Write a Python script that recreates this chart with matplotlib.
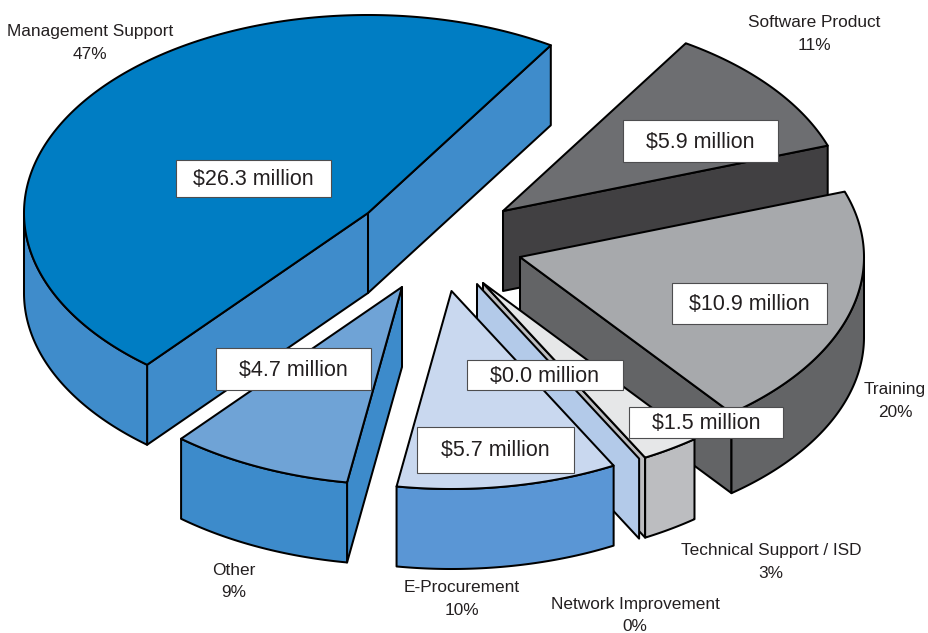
import numpy as np
import matplotlib
matplotlib.use("Agg")
import matplotlib.pyplot as plt
from matplotlib.patches import Polygon, Rectangle

# Spending by category, in the order the pie runs counter-clockwise
categories = ["Management Support", "Other", "E-Procurement", "Network Improvement",
              "Technical Support / ISD", "Training", "Software Product"]
millions = [26.3, 4.7, 5.7, 0.0, 1.5, 10.9, 5.9]
percents = ["47%", "9%", "10%", "0%", "3%", "20%", "11%"]

# Styling per slice, same order as the data
top_colors = ["#007dc3", "#6fa3d6", "#c9d8ef", "#b3cae9", "#e6e7e8", "#a7a9ac", "#6d6e71"]
side_colors = ["#3f8ccb", "#3d8bcb", "#5a96d5", "#b3cae9", "#bcbdc0", "#636466", "#414042"]
apexes = [(368, 213), (402, 287), (451.5, 291), (477, 284), (483, 283), (520, 257), (503, 211)]
value_boxes = [(176, 160, 331, 197), (216, 348, 371, 390), (417, 427, 574, 473), (467, 360, 623, 390),
               (629, 407, 783, 438), (672, 283, 827, 324), (623, 120, 778, 162)]
name_positions = [(90, 30), (234, 569), (462, 586), (635, 603), (771, 549), (895, 388), (814, 21)]
percent_gaps = [23, 22, 23, 22, 23, 23, 23]

RX, RY, DEPTH = 344, 198, 80
START_ANGLE = 57.9
LINE = 1.45
INK = "#231f20"

plt.rcParams["font.family"] = ["Liberation Sans", "DejaVu Sans"]
fig = plt.figure(figsize=(9.29, 6.33), dpi=100, facecolor="white")
ax = fig.add_axes([0, 0, 1, 1])
ax.set_xlim(0, 929)
ax.set_ylim(633, 0)
ax.axis("off")


def rim(apex, degrees, drop=0):
    """Points on the slice's elliptical rim for the given angles."""
    t = np.radians(degrees)
    return np.column_stack([apex[0] + RX * np.cos(t), apex[1] - RY * np.sin(t) + drop])


def face(points, color, z):
    ax.add_patch(Polygon(points, closed=True, facecolor=color, edgecolor="black",
                         linewidth=LINE, joinstyle="round", zorder=z))


def cut_face(apex, angle, color, z):
    tip = rim(apex, np.array([angle]))[0]
    face([apex, tip, (tip[0], tip[1] + DEPTH), (apex[0], apex[1] + DEPTH)], color, z)


total = sum(millions)
sweeps = [v / total * 360 for v in millions]
starts = START_ANGLE + np.concatenate([[0], np.cumsum(sweeps)[:-1]])

# Back-to-front painting order
order = [0, 6, 5, 4, 3, 1, 2]
for z, i in enumerate(order):
    apex, a0, a1 = apexes[i], starts[i], starts[i] + sweeps[i]
    base = z * 10 + 2

    # Radial cut faces, only where they turn toward the viewer
    if np.cos(np.radians(a0)) > 0:
        cut_face(apex, a0, side_colors[i], base)
    if np.cos(np.radians(a1)) < 0:
        cut_face(apex, a1, side_colors[i], base)

    # Outer wall along the front half of the rim
    for lo, hi in [(180, 360), (540, 720)]:
        w0, w1 = max(a0, lo), min(a1, hi)
        if w1 > w0:
            sweep = np.linspace(w0, w1, 120)
            face(np.vstack([rim(apex, sweep), rim(apex, sweep[::-1], DEPTH)]),
                 side_colors[i], base + 1)

    # Top face; a zero-sized slice has only its cut face
    if sweeps[i] > 0:
        sweep = np.linspace(a0, a1, 240)
        face(np.vstack([[apex], rim(apex, sweep)]), top_colors[i], base + 2)

# Value boxes and category captions
for i, (x0, y0, x1, y1) in enumerate(value_boxes):
    ax.add_patch(Rectangle((x0, y0), x1 - x0, y1 - y0, facecolor="white",
                           edgecolor="#4d4d4f", linewidth=0.8, zorder=100))
    ax.text((x0 + x1) / 2, (y0 + y1) / 2 - 1.5, f"${millions[i]:.1f} million", fontsize=15.5,
            color=INK, ha="center", va="center_baseline", zorder=101)

for i, (x, y) in enumerate(name_positions):
    ax.text(x, y, categories[i], fontsize=12.4, color=INK, ha="center", va="center_baseline", zorder=101)
    ax.text(x, y + percent_gaps[i], percents[i], fontsize=12.4, color=INK, ha="center",
            va="center_baseline", zorder=101)

fig.savefig("out.png", dpi=100, facecolor="white")
